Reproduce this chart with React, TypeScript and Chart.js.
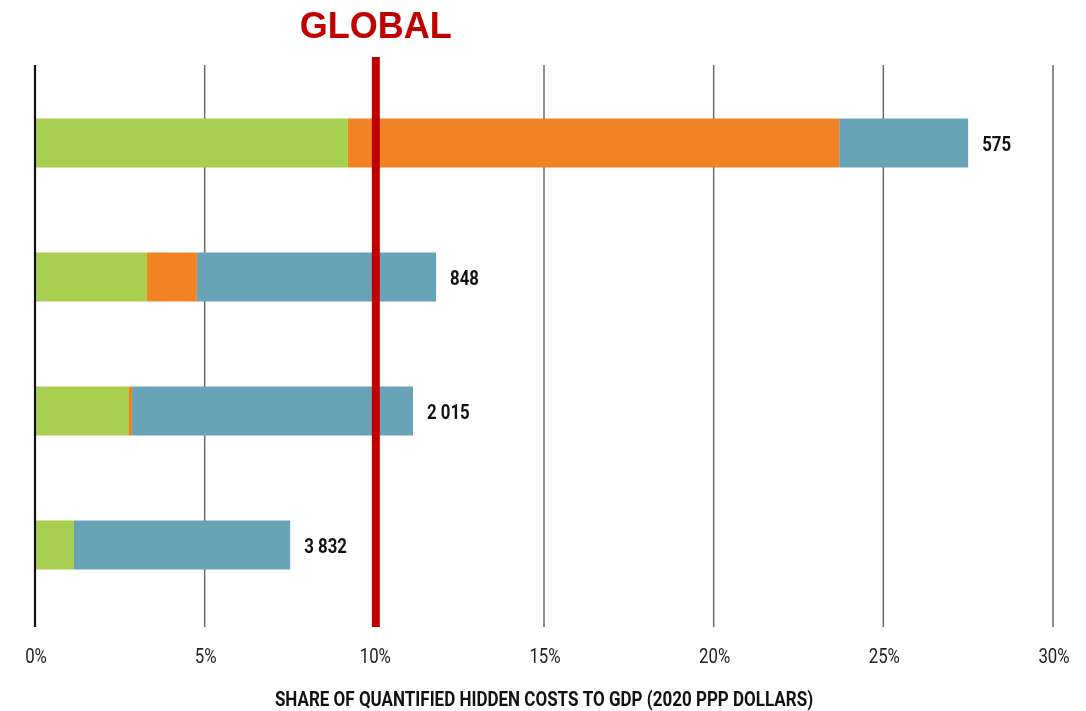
import React, { useEffect, useRef } from 'react';
import { Chart, registerables } from 'chart.js';

Chart.register(...registerables);

const categories = ['Low-income', 'Lower-middle-income', 'Upper-middle-income', 'High-income'];
const environmental = [9.22, 3.30, 2.77, 1.15];
const social = [14.48, 1.47, 0.09, 0];
const health = [3.80, 7.05, 8.28, 6.37];
const totalLabels = ['575', '848', '2 015', '3 832'];
const xTickStep = 5;
const xMax = 30;
const globalValue = 10;
const globalLabel = 'GLOBAL';
const axisTitle = 'SHARE OF QUANTIFIED HIDDEN COSTS TO GDP (2020 PPP DOLLARS)';

const FONT = "Roboto, 'Liberation Sans', sans-serif";

function drawCondensed(ctx: CanvasRenderingContext2D, text: string, x: number, y: number, font: string, align: CanvasTextAlign, color: string, cond: number) {
  ctx.save();
  ctx.font = font;
  ctx.fillStyle = color;
  ctx.textAlign = align;
  ctx.textBaseline = 'alphabetic';
  ctx.translate(x, y);
  ctx.scale(cond, 1);
  ctx.fillText(text, 0, 0);
  ctx.restore();
}

const overlay = {
  id: 'overlay',
  beforeDatasetsDraw(chart: any) {
    const { ctx, chartArea, scales } = chart;
    const x = scales.x;
    const top = chartArea.top - 11;
    const bottom = chartArea.bottom + 15;
    ctx.save();
    ctx.strokeStyle = '#6a6a6a';
    ctx.lineWidth = 1.5;
    for (let v = xTickStep; v <= xMax; v += xTickStep) {
      const px = x.getPixelForValue(v);
      ctx.beginPath();
      ctx.moveTo(px, top);
      ctx.lineTo(px, bottom);
      ctx.stroke();
    }
    ctx.restore();
    for (let v = 0; v <= xMax; v += xTickStep) {
      drawCondensed(ctx, `${v}%`, x.getPixelForValue(v) + 1, chartArea.bottom + 51, `21px ${FONT}`, 'center', '#222', 0.8);
    }
    drawCondensed(ctx, axisTitle, (chartArea.left + chartArea.right) / 2, chartArea.bottom + 94, `bold 20px ${FONT}`, 'center', '#111', 0.85);
  },
  afterDatasetsDraw(chart: any) {
    const { ctx, chartArea, scales } = chart;
    const x = scales.x;
    const top = chartArea.top - 11;
    const bottom = chartArea.bottom + 15;
    ctx.save();
    const x0 = x.getPixelForValue(0);
    ctx.strokeStyle = '#111';
    ctx.lineWidth = 2.2;
    ctx.beginPath();
    ctx.moveTo(x0, top);
    ctx.lineTo(x0, bottom);
    ctx.stroke();
    const xg = x.getPixelForValue(globalValue) + 1.5;
    ctx.strokeStyle = '#C00000';
    ctx.lineWidth = 8;
    ctx.beginPath();
    ctx.moveTo(xg, chartArea.top - 19);
    ctx.lineTo(xg, bottom);
    ctx.stroke();
    ctx.fillStyle = '#C00000';
    ctx.font = "bold 36px 'Liberation Sans', Arial, sans-serif";
    ctx.textAlign = 'center';
    ctx.textBaseline = 'alphabetic';
    ctx.fillText(globalLabel, xg, 38);
    ctx.restore();
    const lastMeta = chart.getDatasetMeta(chart.data.datasets.length - 1);
    lastMeta.data.forEach((el: any, i: number) => {
      drawCondensed(ctx, totalLabels[i], el.x + 14, el.y + 8, `bold 21px ${FONT}`, 'left', '#111', 0.8);
    });
  },
};

export default function App() {
  const canvasRef = useRef<HTMLCanvasElement | null>(null);

  useEffect(() => {
    document.body.style.margin = '0';
    const canvas = canvasRef.current;
    if (!canvas) return;
    const chart = new Chart(canvas, {
      type: 'bar',
      data: {
        labels: categories,
        datasets: [
          { label: 'Environmental', data: environmental, backgroundColor: '#A8CF50', borderWidth: 0 },
          { label: 'Social', data: social, backgroundColor: '#F28324', borderWidth: 0 },
          { label: 'Health', data: health, backgroundColor: '#68A3B7', borderWidth: 0 },
        ],
      },
      options: {
        indexAxis: 'y',
        responsive: false,
        animation: false,
        layout: { padding: { left: 35, right: 33, top: 76, bottom: 99 } },
        plugins: { legend: { display: false }, tooltip: { enabled: false } },
        datasets: { bar: { barPercentage: 0.366, categoryPercentage: 1 } },
        scales: {
          x: { stacked: true, min: 0, max: xMax, display: false },
          y: { stacked: true, display: false },
        },
      },
      plugins: [overlay],
    });
    return () => chart.destroy();
  }, []);

  return (
    <div style={{ width: 1086, height: 711, background: '#fff' }}>
      <canvas ref={canvasRef} width={1086} height={711} />
    </div>
  );
}
